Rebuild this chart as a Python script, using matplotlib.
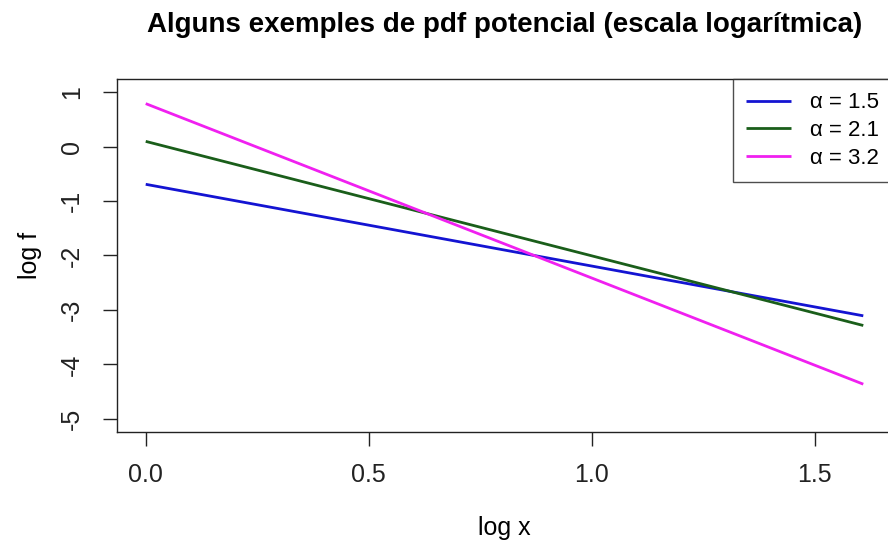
import matplotlib
matplotlib.use("Agg")
import matplotlib.pyplot as plt

plt.rcParams['font.family'] = ['Liberation Sans', 'DejaVu Sans']

# data: endpoints of straight lines in log-log space
log_x = [0.0, 1.609]
series_labels = ["α = 1.5", "α = 2.1", "α = 3.2"]
log_f_15 = [-0.693, -3.107]
log_f_21 = [0.095, -3.285]
log_f_32 = [0.788, -4.362]
colors = ["#1414d2", "#1a5e1a", "#f020f0"]

xticks = [0.0, 0.5, 1.0, 1.5]
xticklabels = ["0.0", "0.5", "1.0", "1.5"]
yticks = [1, 0, -1, -2, -3, -4, -5]

W, H = 888, 543
fig = plt.figure(figsize=(W / 100, H / 100), dpi=100)
left, right, top, bottom = 117, 892, 79, 432
ax = fig.add_axes([left / W, 1 - bottom / H, (right - left) / W, (bottom - top) / H])

for ys, c, lab in zip([log_f_15, log_f_21, log_f_32], colors, series_labels):
    ax.plot(log_x, ys, color=c, lw=2.0, label=lab, solid_capstyle='butt')

ax.set_xlim(-0.0644, 1.6734)
ax.set_ylim(-5.24, 1.24)
ax.set_xticks(xticks)
ax.set_xticklabels(xticklabels)
ax.set_yticks(yticks)
ax.set_yticklabels([str(v) for v in yticks], rotation=90, va='center')
ax.tick_params(direction='out', length=10, width=1, labelsize=18, colors='#222222')
ax.tick_params(axis='x', pad=12)
ax.tick_params(axis='y', pad=14)
for s in ax.spines.values():
    s.set_linewidth(1)
    s.set_color('#222222')

ax.set_xlabel("log x", fontsize=18, va='center')
ax.xaxis.set_label_coords(0.5, (bottom - 528) / (bottom - top))
ax.set_ylabel("log f", fontsize=18, va='center')
ax.yaxis.set_label_coords((30 - left) / (right - left), 0.5)
ax.set_title("Alguns exemples de pdf potencial (escala logarítmica)",
             fontsize=20, fontweight='bold', pad=0, va='center',
             y=(bottom - 25) / (bottom - top))

leg = ax.legend(loc='upper right', fontsize=16, frameon=True, fancybox=False,
                borderaxespad=0, handlelength=2.0, handletextpad=0.85,
                labelspacing=0.31, borderpad=0.6)
leg.get_frame().set_edgecolor('#222222')
leg.get_frame().set_linewidth(1)

fig.savefig("out.png", dpi=100)
